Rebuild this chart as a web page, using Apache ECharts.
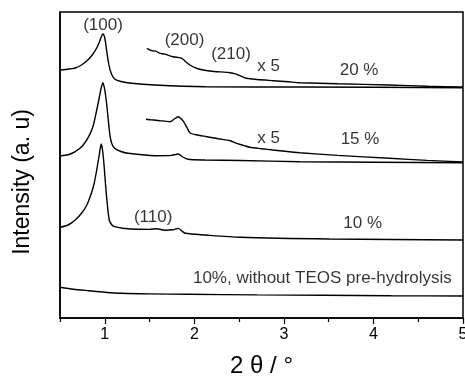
<!DOCTYPE html>
<html>
<head>
<meta charset="utf-8">
<script src="https://cdn.jsdelivr.net/npm/echarts@6/dist/echarts.min.js"></script>
<style>
  html, body { margin: 0; padding: 0; background: #fff; }
  #chart { width: 465px; height: 376px; }
</style>
</head>
<body>
<div id="chart"></div>
<script>
// XRD patterns, [2theta, intensity (offset, a.u.)]
var s20 = [[0.50, 248], [0.60, 249], [0.67, 250], [0.74, 253], [0.81, 258], [0.86, 263], [0.91, 270], [0.94, 276], [0.96, 281], [0.98, 284], [1.00, 280], [1.02, 268], [1.04, 256], [1.06, 248], [1.08, 243], [1.11, 239], [1.18, 236.5], [1.30, 234.7], [1.56, 233], [2.12, 231.3], [3.18, 231], [5.0, 230.3]];
var s20x5 = [[1.47, 269.7], [1.52, 267.5], [1.57, 266.8], [1.62, 264.7], [1.67, 263.9], [1.72, 262.4], [1.76, 261.3], [1.80, 260.8], [1.86, 259.7], [1.90, 256.5], [1.95, 253], [2.00, 250.6], [2.06, 248.7], [2.15, 247.2], [2.25, 246.3], [2.33, 245.9], [2.40, 245.3], [2.45, 244.4], [2.49, 243], [2.54, 241.2], [2.58, 239.7], [2.70, 238.5], [2.88, 237.3], [3.05, 236.2], [3.18, 235.3], [3.60, 234.2], [4.18, 233], [4.60, 231.8], [5.0, 231]];
var s15 = [[0.50, 162], [0.60, 163.5], [0.67, 166.3], [0.75, 172], [0.82, 181.3], [0.87, 192], [0.91, 208], [0.94, 221], [0.96, 230], [0.98, 235.3], [1.00, 228], [1.02, 215], [1.04, 197], [1.06, 181.3], [1.08, 174], [1.11, 169.7], [1.18, 166.5], [1.26, 164.7], [1.56, 162.3], [1.74, 162.6], [1.82, 164], [1.87, 161], [1.93, 158.7], [2.12, 158], [2.51, 157.5], [3.18, 156.3], [5.0, 155.3]];
var s15x5 = [[1.46, 198.7], [1.52, 198.1], [1.57, 197.8], [1.62, 197.3], [1.67, 196.9], [1.73, 196.3], [1.77, 198.5], [1.82, 201.3], [1.85, 199.5], [1.88, 196.3], [1.92, 190], [1.95, 185.3], [2.02, 183.2], [2.14, 181.3], [2.27, 179.2], [2.40, 177.3], [2.47, 174.7], [2.55, 172.6], [2.62, 170.7], [2.75, 169.3], [2.88, 168], [3.18, 165.3], [3.60, 162.6], [4.18, 159.7], [4.60, 157.6], [5.0, 156]];
var s10 = [[0.50, 90.7], [0.59, 93], [0.67, 98], [0.74, 104.7], [0.80, 113], [0.85, 124.7], [0.88, 134], [0.91, 148], [0.94, 164], [0.96, 174], [0.975, 168], [0.99, 154.7], [1.02, 121.3], [1.05, 98], [1.08, 93], [1.11, 91.3], [1.20, 89.8], [1.37, 88.7], [1.50, 88.6], [1.58, 89.3], [1.67, 87.8], [1.76, 88.2], [1.82, 89.6], [1.86, 87], [1.90, 84.7], [2.12, 83], [2.51, 80.7], [3.51, 79], [5.0, 78]];
var s10noPre = [[0.50, 30.7], [0.65, 28.8], [0.82, 27.3], [1.00, 25.8], [1.19, 24.7], [1.50, 24.1], [1.93, 23.7], [2.70, 23.1], [3.43, 22.7], [4.20, 22.3], [5.0, 22]];

var tickLabels = [1, 2, 3, 4, 5];
var minorTicks = [0.5, 1.5, 2.5, 3.5, 4.5];

var annoText = ['(100)', '(200)', '(210)', 'x 5', '20 %', 'x 5', '15 %', '(110)', '10 %', '10%, without TEOS pre-hydrolysis'];
var annoX = [0.98, 1.89, 2.41, 2.83, 3.84, 2.83, 3.85, 1.54, 3.88, 3.43];
var annoY = [293, 278, 264, 252, 248, 180, 179, 101, 95, 40];

var font = 'Liberation Sans, Arial, sans-serif';
var chart = echarts.init(document.getElementById('chart'));

function line(data) {
  return {
    type: 'line',
    data: data,
    symbol: 'none',
    smooth: 0.25,
    silent: true,
    lineStyle: { color: '#000', width: 1.4 }
  };
}

var anno = annoText.map(function (t, i) {
  return { name: t, value: [annoX[i], annoY[i]] };
});

var option = {
  animation: false,
  grid: {
    left: 60, top: 12, right: 2, bottom: 58,
    outerBoundsMode: 'none',
    containLabel: false,
    show: true, borderColor: '#000', borderWidth: 1.5
  },
  xAxis: [{
    type: 'value',
    min: 0.5,
    max: 5,
    name: '2 θ / °',
    nameLocation: 'middle',
    nameGap: 36,
    nameTextStyle: { fontFamily: font, fontSize: 24, color: '#000' },
    axisLine: { lineStyle: { color: '#000', width: 1.5 } },
    axisTick: { show: true, length: 6, customValues: tickLabels, lineStyle: { color: '#000', width: 1.2 } },
    axisLabel: { customValues: tickLabels, margin: 9, fontFamily: font, fontSize: 16, color: '#000' },
    splitLine: { show: false }
  }, {
    type: 'value',
    min: 0.5,
    max: 5,
    position: 'bottom',
    axisLine: { show: false },
    axisTick: { show: true, length: 4, customValues: minorTicks, lineStyle: { color: '#000', width: 1.2 } },
    axisLabel: { show: false },
    splitLine: { show: false }
  }],
  yAxis: {
    type: 'value',
    min: 0,
    max: 306,
    name: 'Intensity (a. u)',
    nameLocation: 'middle',
    nameGap: 26,
    nameTextStyle: { fontFamily: font, fontSize: 23, color: '#000', padding: [0, 34, 0, 0] },
    axisLine: { show: true, lineStyle: { color: '#000', width: 1.5 } },
    axisTick: { show: false },
    axisLabel: { show: false },
    splitLine: { show: false }
  },
  series: [
    line(s20), line(s20x5), line(s15), line(s15x5), line(s10), line(s10noPre),
    {
      type: 'scatter',
      data: anno,
      symbolSize: 0,
      silent: true,
      label: {
        show: true,
        position: 'inside',
        formatter: '{b}',
        fontFamily: font,
        fontSize: 17,
        color: '#000'
      }
    }
  ]
};
chart.setOption(option);
</script>
</body>
</html>
